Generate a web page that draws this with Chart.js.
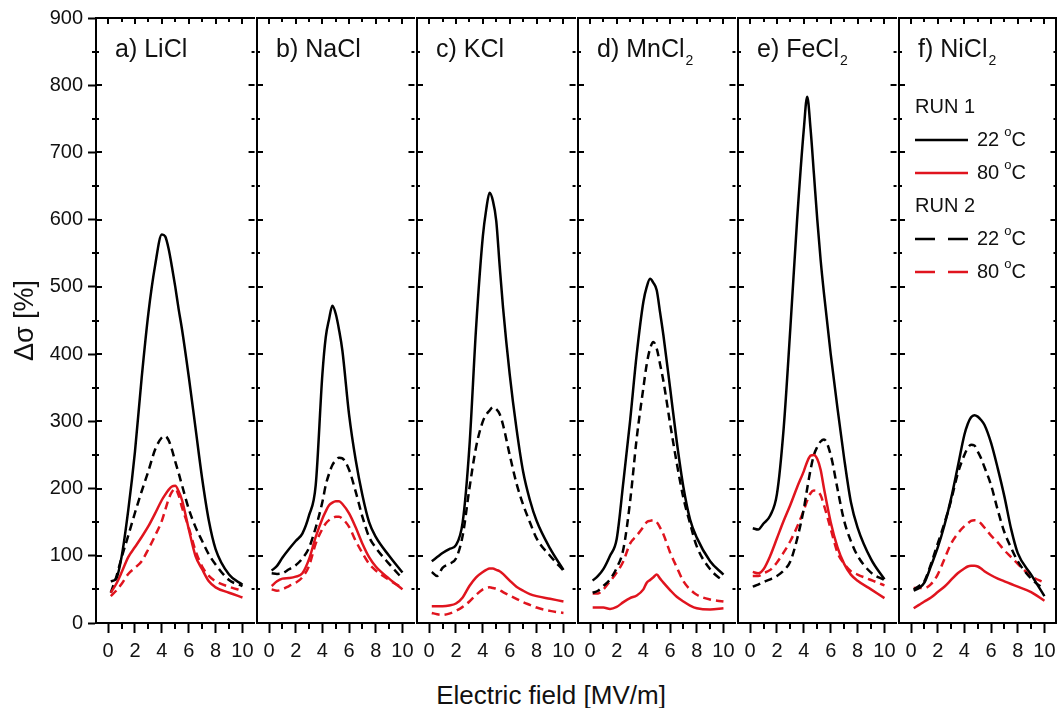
<!DOCTYPE html>
<html>
<head>
<meta charset="utf-8">
<title>Conductivity change vs electric field</title>
<script src="https://cdn.jsdelivr.net/npm/chart.js@4.4.1/dist/chart.umd.min.js"></script>
<style>
  html, body { margin: 0; padding: 0; background: #fff; }
  #figure { position: relative; width: 1062px; height: 708px; overflow: hidden; background: #fff; }
  #figure canvas { position: absolute; top: 0; }
  #xTitle {
    position: absolute; left: 351px; width: 400px; top: 680px;
    text-align: center; line-height: 26px;
    font: 26px 'Liberation Sans', Arial, sans-serif; color: #111;
  }
</style>
</head>
<body>
<div id="figure">
  <div id="xTitle">Electric field [MV/m]</div>
</div>
<script>
const FONT = "'Liberation Sans', Arial, sans-serif";
const RED = '#e0141e';

// electric field values (MV/m) shared by every curve
const fieldGrid = [0.2, 0.6, 1, 1.5, 2, 2.5, 3, 3.5, 4, 4.25, 4.5, 4.75, 5, 5.25, 5.5, 6, 6.5, 7, 7.5, 8, 9, 10];

// a) LiCl
const licl_run1_22 = [62, 66, 98, 168, 255, 365, 461, 532, 578, 575, 557, 530, 500, 467, 437, 367, 291, 215, 152, 110, 72, 57];
const licl_run1_80 = [45, 58, 75, 98, 113, 128, 144, 163, 183, 191, 198, 203, 204, 196, 183, 140, 100, 80, 62, 53, 45, 38];
const licl_run2_22 = [45, 68, 97, 130, 164, 196, 226, 258, 276, 278, 272, 258, 240, 223, 205, 170, 143, 122, 102, 87, 64, 55];
const licl_run2_80 = [40, 48, 58, 73, 82, 92, 110, 130, 152, 168, 184, 195, 200, 190, 172, 142, 108, 84, 70, 62, 54, 48];
// b) NaCl
const nacl_run1_22 = [78, 85, 97, 110, 122, 133, 160, 205, 370, 425, 452, 472, 460, 436, 405, 310, 242, 190, 150, 128, 100, 75];
const nacl_run1_80 = [55, 62, 66, 67, 69, 74, 95, 128, 155, 166, 175, 179, 181, 181, 177, 163, 142, 118, 98, 84, 66, 50];
const nacl_run2_22 = [74, 73, 74, 80, 86, 96, 112, 142, 180, 205, 222, 235, 242, 246, 245, 228, 195, 158, 128, 112, 88, 66];
const nacl_run2_80 = [50, 48, 50, 55, 60, 68, 85, 118, 140, 148, 153, 156, 158, 158, 155, 143, 122, 104, 88, 78, 64, 52];
// c) KCl
const kcl_run1_22 = [92, 98, 104, 110, 116, 150, 262, 440, 575, 615, 640, 628, 598, 532, 470, 370, 290, 225, 183, 152, 111, 79];
const kcl_run1_80 = [25, 25, 25, 26, 29, 38, 55, 68, 76, 79, 81, 81, 79, 77, 73, 63, 54, 48, 43, 40, 36, 32];
const kcl_run2_22 = [76, 70, 82, 88, 96, 130, 200, 262, 300, 310, 316, 321, 318, 311, 295, 250, 208, 176, 150, 126, 100, 78];
const kcl_run2_80 = [15, 13, 12, 14, 18, 24, 32, 42, 50, 52, 53, 52, 51, 49, 46, 41, 36, 31, 27, 23, 18, 15];
// d) MnCl2
const mncl2_run1_22 = [63, 70, 80, 100, 125, 210, 300, 400, 478, 500, 512, 506, 495, 462, 428, 350, 270, 202, 154, 127, 92, 72];
const mncl2_run1_80 = [23, 23, 23, 21, 24, 31, 37, 41, 50, 60, 64, 68, 72, 66, 60, 49, 39, 32, 26, 22, 20, 22];
const mncl2_run2_22 = [45, 48, 55, 65, 82, 110, 180, 275, 350, 385, 408, 418, 408, 385, 360, 297, 238, 186, 148, 114, 80, 62];
const mncl2_run2_80 = [44, 44, 50, 62, 75, 92, 118, 130, 143, 150, 152, 153, 150, 142, 132, 105, 83, 62, 50, 42, 35, 32];
// e) FeCl2
const fecl2_run1_22 = [141, 139, 148, 160, 192, 290, 440, 600, 735, 783, 735, 668, 600, 540, 490, 400, 320, 245, 180, 142, 95, 65];
const fecl2_run1_80 = [76, 74, 80, 100, 126, 152, 176, 202, 226, 240, 249, 250, 244, 228, 200, 150, 113, 88, 72, 63, 50, 37];
const fecl2_run2_22 = [54, 57, 61, 65, 70, 78, 92, 125, 170, 200, 228, 250, 262, 270, 273, 250, 200, 152, 122, 100, 75, 64];
const fecl2_run2_80 = [70, 70, 74, 79, 90, 105, 122, 143, 168, 182, 193, 197, 196, 190, 175, 140, 105, 88, 77, 72, 64, 56];
// f) NiCl2
const nicl2_run1_22 = [48, 52, 60, 85, 112, 145, 185, 232, 280, 296, 306, 309, 307, 302, 295, 268, 230, 188, 140, 104, 72, 40];
const nicl2_run1_80 = [22, 27, 32, 38, 46, 54, 64, 74, 81, 84, 85, 85, 84, 81, 77, 71, 66, 62, 58, 54, 46, 33];
const nicl2_run2_22 = [50, 55, 62, 88, 118, 148, 182, 222, 250, 260, 265, 264, 255, 245, 232, 205, 168, 135, 112, 92, 66, 50];
const nicl2_run2_80 = [52, 52, 52, 58, 72, 95, 118, 133, 144, 148, 152, 153, 152, 148, 142, 130, 120, 108, 98, 88, 70, 60];

const saltLabels = ['a) LiCl', 'b) NaCl', 'c) KCl', 'd) MnCl', 'e) FeCl', 'f) NiCl'];
const saltSubscripts = ['', '', '', '2', '2', '2'];
const saltSeries = [
  [licl_run1_22, licl_run1_80, licl_run2_22, licl_run2_80],
  [nacl_run1_22, nacl_run1_80, nacl_run2_22, nacl_run2_80],
  [kcl_run1_22, kcl_run1_80, kcl_run2_22, kcl_run2_80],
  [mncl2_run1_22, mncl2_run1_80, mncl2_run2_22, mncl2_run2_80],
  [fecl2_run1_22, fecl2_run1_80, fecl2_run2_22, fecl2_run2_80],
  [nicl2_run1_22, nicl2_run1_80, nicl2_run2_22, nicl2_run2_80]
];

const seriesStyles = [
  { run: 'RUN 1', temp: '22', color: '#000', dash: [] },
  { run: 'RUN 1', temp: '80', color: RED, dash: [] },
  { run: 'RUN 2', temp: '22', color: '#000', dash: [8, 5] },
  { run: 'RUN 2', temp: '80', color: RED, dash: [8, 5] }
];

const figure = document.getElementById('figure');
const panelEdges = [0, 1, 2, 3, 4, 5, 6].map(k => Math.round(96 + k * 160.5));

function drawTemp(ctx, temp, x, y) {
  ctx.font = `20px ${FONT}`;
  ctx.fillText(temp, x, y);
  let cx = x + ctx.measureText(temp).width + 5;
  ctx.font = `13px ${FONT}`;
  ctx.fillText('o', cx, y - 8);
  cx += ctx.measureText('o').width;
  ctx.font = `20px ${FONT}`;
  ctx.fillText('C', cx, y);
}

function makeDecor(i) {
  return {
    id: 'decor' + i,
    afterDraw(chart) {
      const { ctx, chartArea: a, scales: { x, y } } = chart;
      ctx.save();
      ctx.strokeStyle = '#000';
      ctx.lineWidth = 2;
      ctx.setLineDash([]);
      ctx.beginPath();
      for (let v = 0; v <= 10; v++) {
        const px = Math.round(x.getPixelForValue(v));
        const major = v % 2 === 0;
        ctx.moveTo(px, a.top);
        ctx.lineTo(px, a.top + (major ? 6 : 4));
        if (!major) {
          ctx.moveTo(px, a.bottom);
          ctx.lineTo(px, a.bottom + 6);
        }
      }
      for (let v = 0; v <= 900; v += 50) {
        const py = Math.round(y.getPixelForValue(v));
        const len = v % 100 === 0 ? 6 : 3;
        ctx.moveTo(a.left, py); ctx.lineTo(a.left + len, py);
        ctx.moveTo(a.right, py); ctx.lineTo(a.right - len, py);
        if (i === 0 && v % 100 !== 0) {
          ctx.moveTo(a.left, py); ctx.lineTo(a.left - 4, py);
        }
      }
      ctx.stroke();

      // panel label, with lowered subscript
      ctx.fillStyle = '#111';
      ctx.textBaseline = 'alphabetic';
      ctx.textAlign = 'left';
      ctx.font = `25px ${FONT}`;
      const tx = a.left + 19, ty = a.top + 39;
      ctx.fillText(saltLabels[i], tx, ty);
      if (saltSubscripts[i]) {
        const w = ctx.measureText(saltLabels[i]).width;
        ctx.font = `14px ${FONT}`;
        ctx.fillText(saltSubscripts[i], tx + w + 1, ty + 8);
      }

      // legend in the last panel
      if (i === 5) {
        const lx = a.left + 16;
        let rowY = a.top + 89;
        let lastRun = '';
        ctx.textBaseline = 'middle';
        seriesStyles.forEach(s => {
          if (s.run !== lastRun) {
            ctx.font = `20px ${FONT}`;
            ctx.fillStyle = '#111';
            ctx.fillText(s.run, lx, rowY);
            rowY += 33;
            lastRun = s.run;
          }
          ctx.beginPath();
          ctx.strokeStyle = s.color;
          ctx.lineWidth = 2.5;
          ctx.setLineDash(s.dash.length ? [20, 13] : []);
          ctx.moveTo(lx, rowY);
          ctx.lineTo(lx + 53, rowY);
          ctx.stroke();
          ctx.setLineDash([]);
          ctx.fillStyle = '#111';
          drawTemp(ctx, s.temp, lx + 62, rowY);
          rowY += 33;
        });
      }
      ctx.restore();
    }
  };
}

function buildPanel(i) {
  const left = panelEdges[i], right = panelEdges[i + 1];
  const axisW = i === 0 ? left : 6;
  const canvas = document.createElement('canvas');
  canvas.width = axisW + (right - left) + 3;
  canvas.height = 708;
  canvas.style.left = (left - axisW) + 'px';
  figure.appendChild(canvas);

  const series = saltSeries[i];
  const hidden = { display: false };
  new Chart(canvas, {
    type: 'line',
    data: {
      datasets: seriesStyles.map((s, k) => ({
        label: `${s.run} ${s.temp} °C`,
        data: fieldGrid.map((e, j) => ({ x: e, y: series[k][j] })),
        borderColor: s.color,
        borderDash: s.dash,
        borderWidth: 2.5,
        pointRadius: 0,
        fill: false,
        cubicInterpolationMode: 'monotone'
      }))
    },
    options: {
      responsive: false,
      animation: false,
      devicePixelRatio: 1,
      layout: { padding: { top: 18, right: 3, left: 0, bottom: 0 } },
      plugins: { legend: hidden, tooltip: { enabled: false } },
      scales: {
        x: {
          type: 'linear', position: 'bottom', min: -0.9, max: 10.9,
          ticks: {
            stepSize: 2, includeBounds: false, autoSkip: false, maxRotation: 0,
            padding: 6, color: '#111', font: { family: FONT, size: 20 }
          },
          grid: { drawOnChartArea: false, tickLength: 10, tickWidth: 2, tickColor: '#000' },
          border: { display: true, color: '#000', width: 2 },
          afterFit: s => { s.height = 85; }
        },
        xTop: {
          type: 'linear', axis: 'x', position: 'top', min: -0.9, max: 10.9,
          ticks: hidden, grid: hidden,
          border: { display: true, color: '#000', width: 2 },
          afterFit: s => { s.height = 0; }
        },
        y: {
          type: 'linear', position: 'left', min: 0, max: 900,
          ticks: {
            display: i === 0, stepSize: 100, padding: 5,
            color: '#111', font: { family: FONT, size: 20 }
          },
          grid: i === 0
            ? { drawOnChartArea: false, tickLength: 8, tickWidth: 2, tickColor: '#000' }
            : hidden,
          border: { display: true, color: '#000', width: 2 },
          title: {
            display: i === 0, text: 'Δσ [%]', color: '#111',
            font: { family: FONT, size: 27 }, padding: { top: 9, bottom: 0 }
          },
          afterFit: s => { s.width = axisW; }
        },
        yRight: {
          type: 'linear', axis: 'y', position: 'right', min: 0, max: 900,
          ticks: hidden, grid: hidden,
          // only the outer frame needs its own right edge; inner edges come from the next panel
          border: { display: i === 5, color: '#000', width: 2 },
          afterFit: s => { s.width = 0; }
        }
      }
    },
    plugins: [makeDecor(i)]
  });
}

for (let i = 0; i < 6; i++) buildPanel(i);
</script>
</body>
</html>
